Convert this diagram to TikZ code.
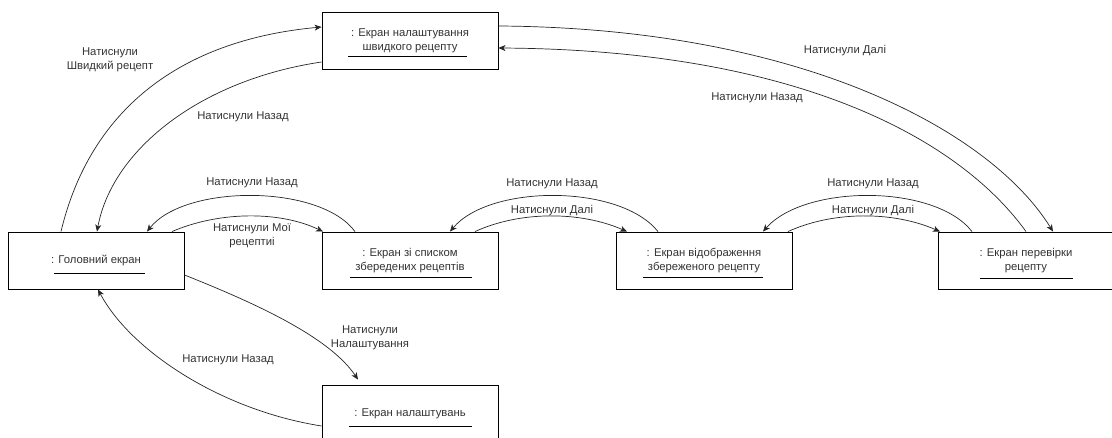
\documentclass[tikz,border=0pt]{standalone}
\usepackage{fontspec}
\setmainfont{Liberation Sans}
\usetikzlibrary{arrows.meta}
\tikzset{
  box/.style={draw=black, line width=0.9pt, minimum width=176pt, minimum height=57pt, inner sep=0pt, align=center, text=black!80, font=\fontsize{11.3}{14}\selectfont},
  lbl/.style={text=black!80, align=center, inner sep=0pt, font=\fontsize{11.3}{14}\selectfont},
  conn/.style={draw=black!85, line width=0.7pt},
  arr/.style={conn, -{Stealth[length=7pt,width=6pt,inset=2pt]}},
  uline/.style={draw=black, line width=0.8pt}
}
\begin{document}
\begin{tikzpicture}[x=1pt,y=-1pt]
\useasboundingbox (0,0) rectangle (1112,438);
\clip (0,0) rectangle (1112,438);
% boxes
\node[box] (top) at (410,40.5) {: Екран налаштування\\швидкого рецепту};
\node[box] (main) at (96,260.5) {: Головний екран};
\node[box] (list) at (410,260.5) {: Екран зі списком\\збередених рецептів};
\node[box] (disp) at (704,260.5) {: Екран відображення\\збереженого рецепту};
\node[box] (chk) at (1026,260.5) {: Екран перевірки\\рецепту};
\node[box] (set) at (410,413.5) {: Екран налаштувань};
% underlines
\draw[uline] ([shift={(-62,15.5)}]top.center) -- ++(119,0);
\draw[uline] ([shift={(-42,12.5)}]main.center) -- ++(91,0);
\draw[uline] ([shift={(-60,16.5)}]list.center) -- ++(122,0);
\draw[uline] ([shift={(-61,16.5)}]disp.center) -- ++(120,0);
\draw[uline] ([shift={(-46,17.5)}]chk.center) -- ++(93,0);
\draw[uline] ([shift={(-61,12.5)}]set.center) -- ++(123,0);
% anchor coordinates on boxes (yshift: positive = up)
\coordinate (mTa) at ([xshift=-35]main.north);
\coordinate (mTb) at ([xshift=1]main.north);
\coordinate (mTc) at ([xshift=51]main.north);
\coordinate (mTd) at ([xshift=76]main.north);
\coordinate (mR) at ([yshift=-14.5]main.east);
\coordinate (mB) at ([xshift=2]main.south);
\coordinate (tL1) at ([yshift=13.5]top.west);
\coordinate (tL2) at ([yshift=-21.5]top.west);
\coordinate (tR1) at ([yshift=14.5]top.east);
\coordinate (tR2) at ([yshift=-7.5]top.east);
\coordinate (lTa) at ([xshift=-87]list.north);
\coordinate (lTb) at ([xshift=-55]list.north);
\coordinate (lTc) at ([xshift=40]list.north);
\coordinate (lTd) at ([xshift=65]list.north);
\coordinate (dTa) at ([xshift=-77]disp.north);
\coordinate (dTb) at ([xshift=-46]disp.north);
\coordinate (dTc) at ([xshift=59]disp.north);
\coordinate (dTd) at ([xshift=84]disp.north);
\coordinate (cTa) at ([xshift=-86]chk.north);
\coordinate (cTb) at ([xshift=-54]chk.north);
\coordinate (cTc) at ([xshift=0]chk.north);
\coordinate (cTd) at ([xshift=27]chk.north);
\coordinate (sT) at ([xshift=-52,yshift=5]set.north);
\coordinate (sL) at ([yshift=-12.5]set.west);
% connectors
\draw[arr] (mTa) .. controls (90,110) and (180,40) .. (tL1);
\draw[arr] (tL2) .. controls (200,80) and (112,150) .. (mTb);
\draw[arr] (mTd) .. controls (220,211) and (280,211) .. (lTa);
\draw[arr] (lTb) .. controls (320,184) and (185,184) .. (mTc);
\draw[arr] (lTd) .. controls (520,211) and (580,211) .. (dTa);
\draw[arr] (dTb) .. controls (620,184) and (490,184) .. (lTc);
\draw[arr] (dTd) .. controls (833,211) and (893,211) .. (cTa);
\draw[arr] (cTb) .. controls (935,184) and (805,184) .. (dTc);
\draw[arr] (tR1) .. controls (800,28) and (990,130) .. (cTd);
\draw[arr] (cTc) .. controls (960,140) and (800,50) .. (tR2);
\draw[arr] (mR) .. controls (260,305) and (330,338) .. (sT);
\draw[arr] (sL) .. controls (220,410) and (130,350) .. (mB);
% labels
\node[lbl] (l1) at (110,60) {Натиснули\\Швидкий рецепт};
\node[lbl] (l2) at (243,117) {Натиснули Назад};
\node[lbl] (l3) at (252,183) {Натиснули Назад};
\node[lbl] (l4) at (252,235.5) {Натиснули Мої\\рецептиі};
\node[lbl] (l5) at (552,184) {Натиснули Назад};
\node[lbl] (l6) at (552,211) {Натиснули Далі};
\node[lbl] (l7) at (873,184) {Натиснули Назад};
\node[lbl] (l8) at (873,211) {Натиснули Далі};
\node[lbl] (l9) at (845,51) {Натиснули Далі};
\node[lbl] (l10) at (757,98) {Натиснули Назад};
\node[lbl] (l11) at (370,338) {Натиснули\\Налаштування};
\node[lbl] (l12) at (228,360) {Натиснули Назад};
\end{tikzpicture}
\end{document}
